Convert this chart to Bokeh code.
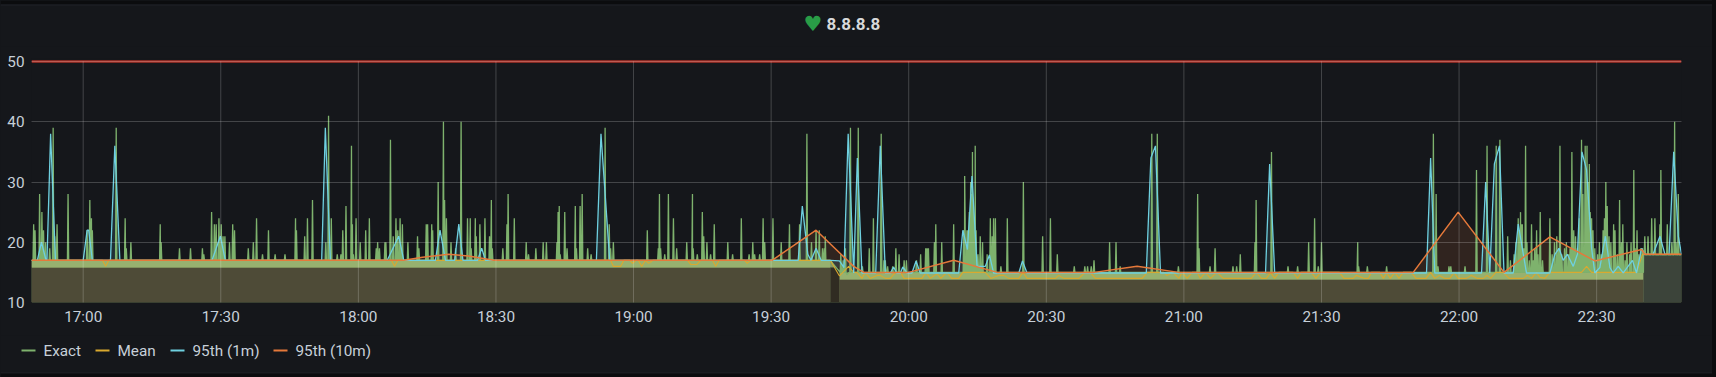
from bokeh.plotting import figure
from bokeh.layouts import column
from bokeh.embed import file_html
from bokeh.resources import INLINE
from bokeh.models import Range1d, FixedTicker, Label

# time is in minutes after 17:00
title_text = "8.8.8.8"
tick_minutes = [0, 30, 60, 90, 120, 150, 180, 210, 240, 270, 300, 330]
tick_labels = ["17:00", "17:30", "18:00", "18:30", "19:00", "19:30", "20:00", "20:30", "21:00", "21:30", "22:00", "22:30"]
y_ticks = [10, 20, 30, 40, 50]
threshold = 50
t_min, t_max = -11.27, 348.5

# (start, end, band bottom, band top)
band_segments = [(-11.27, 162.9, 15.8, 17), (164.9, 340.2, 13.8, 15)]
gap_segment = (162.9, 164.9, 17)
late_segment = (340.2, 348.5, 17.9)

exact_spikes = [
    (-10.8, 23), (-10.5, 22), (-9.5, 28), (-9.0, 25), (-8.65, 22), (-8.2, 20), (-7.3, 19), (-6.55, 39), (-6.2, 21), (-5.7, 23),
    (-3.3, 28), (0.86, 22), (1.45, 27), (1.8, 24), (2.0, 22), (7.2, 39), (9.15, 24), (9.4, 19), (10.4, 20), (16.8, 23), (17, 20),
    (21, 19), (23.4, 19), (26, 19), (26.3, 18), (28, 25), (28.6, 23), (29, 23), (29.6, 24), (30.1, 23), (30.5, 21), (30.9, 21),
    (31.9, 20), (32.6, 23), (33, 22), (36, 19), (37.1, 20), (37.8, 24), (39.1, 18), (40.4, 22), (41.85, 18), (44, 18), (46.3, 24),
    (46.5, 22), (48.3, 21), (48.9, 24), (50, 27), (52.9, 20), (53.5, 41), (54.1, 24), (55.4, 18), (56.2, 18), (56.6, 22), (57.3, 26),
    (58.5, 36), (58.7, 23), (58.9, 18), (59.5, 24), (60.4, 20), (61.6, 22), (62.4, 24), (63.9, 19), (64.2, 20), (64.6, 19), (65.8, 20),
    (66, 20), (67, 37), (67.6, 21), (68.2, 24), (68.6, 22), (69.1, 24), (69.6, 23), (70.8, 20), (72.9, 21), (73.2, 19), (74.8, 23),
    (75.1, 23), (76, 23), (76.2, 22), (77.4, 30), (78.55, 40), (78.8, 27), (79.2, 24), (80.2, 20), (81.2, 19), (82.4, 40), (83.8, 24),
    (84.4, 24), (84.6, 19), (85.5, 24), (85.7, 21), (86.5, 23), (87.6, 24), (88.6, 21), (89, 27), (89.2, 19), (91.5, 19), (92.4, 23),
    (92.65, 28), (94, 24), (96.6, 20), (97.1, 18), (98.7, 19), (100.3, 20), (101, 20), (103.3, 20), (103.55, 25), (103.8, 26), (104, 18),
    (105, 25), (105.5, 19), (107.3, 26), (107.55, 19), (108.35, 26), (108.8, 28), (110, 19), (110.75, 18), (113.8, 39), (114.7, 23),
    (115, 19), (115.6, 20), (123, 22), (125.4, 19), (125.65, 28), (125.9, 19), (126.8, 18), (127.6, 28), (128.7, 24), (129.4, 19),
    (131.6, 20), (132.85, 28), (133, 19), (133.9, 18), (135, 25), (135.3, 21), (136, 20), (136.8, 18), (137.6, 23), (140.55, 20),
    (141.6, 18), (143.5, 24), (145.2, 18), (146, 20), (146.4, 18), (147.5, 18), (148.25, 24), (148.6, 20), (150.4, 24), (152.2, 20),
    (154, 23), (156.2, 23), (157.8, 38), (158.8, 20), (159.8, 22), (160.5, 22), (161.2, 19), (161.6, 19), (161.8, 21),
    (165.2, 18), (165.7, 17), (166.2, 19), (167.3, 39), (169, 39), (169.9, 16), (171.4, 19), (172.3, 24), (174, 38), (174.6, 17), (174.9, 17),
    (175.4, 16), (176.5, 16), (177.2, 19), (177.9, 18), (179, 17), (179.5, 17), (181.7, 17), (182.6, 18), (183.7, 19), (184, 19), (184.3, 19),
    (185.6, 20), (185.9, 23), (187.2, 20), (189.8, 23), (192, 22), (192.2, 31), (192.3, 24), (192.7, 22), (192.9, 22), (193.2, 25),
    (193.5, 30), (193.7, 28), (193.9, 35), (194.1, 26), (194.3, 24), (194.5, 36), (194.7, 22), (195.1, 18), (195.6, 21), (196.1, 20),
    (197.1, 18), (197.8, 24), (198.2, 21), (198.5, 24), (198.9, 24), (200.1, 16), (201.5, 24), (205, 30), (209.2, 21), (210.9, 24),
    (212.4, 18), (216.1, 16), (218.4, 16), (219, 16), (219.8, 16), (220.4, 17), (223.8, 20), (225.2, 20), (226.1, 16), (233, 38),
    (234.2, 38), (238.8, 16), (243, 28), (243.3, 19), (245.7, 16), (246.8, 19), (250.7, 16), (251.5, 16), (252.3, 18), (255.5, 20),
    (255.75, 27), (259.1, 35), (262.7, 16), (264.8, 16), (267.2, 20), (268.5, 24), (269.3, 16), (270, 20), (277.9, 20), (278.1, 16),
    (280, 16), (284.2, 16), (294.4, 38), (295, 28), (295.4, 16), (297.8, 16), (298.2, 16), (301.3, 16),
    (303.8, 32), (306.1, 36), (308.1, 36), (308.9, 37), (310.6, 21), (311.2, 17), (312, 18), (312.4, 20), (312.9, 24), (313.1, 22),
    (313.4, 25), (313.6, 23), (313.8, 23), (314.1, 19), (314.5, 36), (314.8, 20), (315.3, 17), (315.8, 23), (316.2, 17), (316.5, 19),
    (316.9, 22), (317.2, 18), (317.7, 25), (318.2, 17), (319.8, 24), (320.3, 18), (320.8, 20), (321.3, 21), (321.7, 19), (322, 36),
    (322.4, 18), (323, 19), (323.4, 20), (323.9, 18), (324.2, 19), (324.6, 35), (325, 22), (325.4, 21), (325.8, 19), (326.2, 24),
    (326.7, 37), (327, 28), (327.5, 36), (327.9, 36), (328.1, 30), (328.4, 33), (328.6, 25), (328.9, 24), (329.2, 22), (329.6, 19),
    (330.2, 18), (330.6, 20), (331, 18), (331.4, 22), (331.7, 24), (332, 30), (332.3, 26), (332.7, 21), (333.1, 20), (333.7, 23),
    (334, 22), (334.5, 18), (335, 27), (335.4, 20), (335.7, 23), (336.2, 17), (336.6, 20), (337.2, 18), (337.5, 20), (338.1, 32),
    (338.4, 19), (338.8, 22), (339.2, 18), (339.6, 19), (340, 19), (340.5, 21), (341.2, 21), (342, 24), (342.7, 24), (343.8, 23),
    (344, 32), (345.4, 23), (346.4, 20), (347, 40), (347.3, 20), (347.8, 28),
]

mean_points = [
    (-11.27, 17), (4.2, 17), (4.9, 16), (5.6, 17), (67.2, 17), (67.9, 16), (68.6, 17), (115, 17), (115.6, 16), (117.2, 16), (117.9, 17),
    (119.2, 17), (119.8, 16.5), (120.5, 17), (121, 17), (121.8, 16), (122.6, 17), (123.3, 16.5), (123.7, 16.7), (124.2, 17),
    (131.8, 17), (132.5, 16.3), (133.8, 16.3), (134.6, 17), (137.2, 17), (137.9, 16), (138.7, 17), (144.2, 17), (144.8, 16.5), (145.5, 17),
    (162.9, 17),
    (164.9, 14.4), (166.9, 16), (168, 15), (168.7, 15), (169.8, 14), (170.5, 15), (171.6, 14), (173.1, 14.5), (173.8, 14.5), (174.9, 14),
    (176, 14), (177.1, 15), (178.2, 15), (179, 14), (182.9, 14), (183.8, 15), (184.7, 14), (186.2, 14.8), (187, 14), (188.3, 15),
    (189.4, 14), (190.9, 14), (191.8, 15), (196.7, 15), (197.9, 14), (199.6, 14.5), (200.7, 14.5), (201.8, 14), (204, 14), (204.9, 15),
    (205.8, 14), (212, 14), (212.7, 14.5), (213.8, 14), (217.1, 14), (218.5, 15), (219.6, 15), (220.7, 14), (230.9, 14), (232, 15),
    (235.6, 15), (236.3, 14.5), (237.6, 15), (238.9, 14), (239.6, 15), (240.7, 14), (241.8, 15), (242.9, 15), (243.6, 14), (244.7, 15),
    (245.8, 14), (247.2, 15), (248.6, 14), (254.7, 14), (255.8, 15), (256.9, 14), (258, 14), (258.9, 15), (259.8, 14), (260.7, 15),
    (263.8, 15), (264.8, 14), (265.6, 15), (267.8, 15), (268.8, 14), (269.8, 15), (273.9, 15), (274.9, 14), (276.9, 14), (277.6, 14.5),
    (279.4, 14), (280.2, 14), (280.9, 15), (282.7, 15), (283.5, 14), (284.2, 15), (285, 14), (286, 15), (286.9, 14), (287.8, 15),
    (289.6, 15), (290.6, 14), (292.8, 14), (293.8, 15), (294.7, 14), (295.7, 14.5), (296.9, 14), (298, 14), (298.9, 15), (299.8, 14),
    (301.6, 14), (302.7, 14.5), (304, 14), (305.3, 14), (306.1, 14.5), (306.9, 14), (308, 15), (309.6, 15), (310.9, 14), (314, 14),
    (314.9, 14.5), (315.8, 14), (316.9, 15), (317.6, 14.2), (318.7, 14), (319.8, 15), (326.7, 15), (327.8, 16), (328.9, 15), (338.7, 15),
    (340, 18), (348.5, 18),
]

p95_1m_points = [
    (-11.27, 17), (-10, 17), (-9.1, 20), (-8.1, 17), (-7.9, 17), (-7.1, 38), (-6.05, 17), (0, 17), (0.86, 22), (1.2, 22), (2, 17),
    (5.95, 17), (6.9, 36), (8, 17), (28.1, 17), (29.9, 21), (31, 17), (52, 17), (52.8, 39), (53.9, 17), (66.3, 17), (68.8, 21), (69.9, 17),
    (76.8, 17), (77.8, 22), (79, 17), (81, 17), (81.9, 23), (82.8, 17), (86, 17), (86.9, 19), (87.7, 17), (111.9, 17), (112.9, 38), (114.8, 17),
    (155.9, 17), (156.8, 26), (158, 18), (158.7, 17), (159.8, 19), (160.9, 17), (162.9, 17),
    (164.9, 16.9), (165.9, 15.8), (166.8, 38), (168, 14.9), (168.8, 34), (169.8, 14.9), (172.8, 14.9), (173.8, 36), (174.9, 14.9), (176, 14.9),
    (176.7, 15.9), (177.4, 14.9), (178.2, 14.9), (178.7, 15.9), (179.6, 14.9), (180.7, 14.9), (181.6, 16.9), (182.5, 14.9), (190.9, 14.9),
    (191.8, 22), (192.8, 18.8), (193.8, 31), (194.9, 16), (196.7, 16), (197.6, 17.9), (198.5, 14.9), (204, 14.9), (204.8, 16.9), (205.8, 14.9),
    (231.8, 14.9), (232.8, 34), (233.8, 36), (234.9, 14.9), (257.8, 14.9), (258.7, 33), (259.8, 14.9), (292.9, 14.9), (293.8, 34), (294.7, 14.9),
    (304.9, 14.9), (305.8, 30), (306.7, 14.9), (307.7, 33), (308.8, 36), (309.8, 14.9), (311.8, 14.9), (312.9, 23), (314.7, 14.9), (319.8, 14.9),
    (320.9, 18), (321.8, 19), (322.7, 17), (323.6, 18), (324.9, 16), (325.8, 18), (326.8, 35), (327.8, 32), (328.9, 19), (329.6, 14.9),
    (330.7, 15.8), (331.9, 21), (332.9, 15.8), (333.6, 14.9), (334.7, 16), (335.8, 14.9), (337.8, 17), (338.7, 14.9), (339.8, 19), (340.5, 18),
    (342.3, 18), (343.8, 21), (344.9, 18), (345.8, 18), (346.8, 35), (347.8, 21), (348.5, 18),
]

p95_10m_points = [
    (-11.27, 17), (69.9, 17), (74, 17.5), (79.7, 18), (84, 17.7), (89.5, 17), (150.2, 17), (159.8, 22), (168, 16), (170.2, 15), (180, 15),
    (189.8, 17), (199.3, 15), (220.4, 15), (229.8, 16), (238.9, 15), (290, 15), (299.8, 25), (309.8, 15), (319.8, 20.9), (329.6, 16.9),
    (339.8, 18.8), (340.5, 18), (348.5, 18),
]

series_names = ["Exact", "Mean", "95th (1m)", "95th (10m)"]
series_colors = ["#7EB26D", "#D9A92F", "#6ED0E0", "#E5793A"]

BG = "#15171b"
OUTER = "#0b0c0e"
EDGE = "#212328"
TEXT = "#c7d0d9"
W, PANEL_W = 1716, 1712
HEAD_H, MAIN_BOTTOM, H = 46, 335, 377
FRAME_TOP, FRAME_BOTTOM = 58, 302


def strip_figure(height, y_top):
    """A frameless strip of the page whose data units are page pixels."""
    return figure(width=PANEL_W, height=height, output_backend="svg", toolbar_location=None,
                  x_range=Range1d(0, PANEL_W), y_range=Range1d(y_top + height, y_top),
                  x_axis_type=None, y_axis_type=None, min_border=0, frame_align=False,
                  background_fill_color=BG, border_fill_color=BG, outline_line_color=None, margin=0)


# header: panel edge, heart and title
head = strip_figure(HEAD_H, 0)
head.grid.visible = False
head.quad(left=[0], right=[PANEL_W], top=[0], bottom=[4], fill_color=OUTER, line_color=None)
head.quad(left=[0], right=[PANEL_W], top=[4], bottom=[5], fill_color=EDGE, line_color=None)
head.add_layout(Label(x=812.5, y=23.5, text="\u2665", text_color="#299c46", text_font="DejaVu Sans",
                      text_font_size="21px", text_baseline="middle", text_align="center"))
head.add_layout(Label(x=826, y=23, text=title_text, text_color="#d8d9da", text_font="Roboto",
                      text_font_style="bold", text_font_size="17px", text_baseline="middle"))

# main chart
p = figure(width=PANEL_W, height=MAIN_BOTTOM - HEAD_H, output_backend="svg", toolbar_location=None,
           x_range=Range1d(t_min, t_max), y_range=Range1d(10, 50.5), frame_align=False,
           min_border_left=31, min_border_right=PANEL_W - 1681, min_border_top=FRAME_TOP - HEAD_H,
           min_border_bottom=MAIN_BOTTOM - FRAME_BOTTOM,
           background_fill_color=BG, border_fill_color=BG, outline_line_color=None, margin=0)
p.xaxis.ticker = FixedTicker(ticks=tick_minutes)
p.xaxis.major_label_overrides = dict(zip(tick_minutes, tick_labels))
p.yaxis.ticker = FixedTicker(ticks=y_ticks)
for ax in (p.xaxis[0], p.yaxis[0]):
    ax.axis_line_color = None
    ax.major_tick_line_color = None
    ax.minor_tick_line_color = None
    ax.major_tick_in = 0
    ax.major_tick_out = 0
    ax.major_label_text_color = TEXT
    ax.major_label_text_font = "Roboto"
    ax.major_label_text_font_size = "15.3px"
p.xaxis[0].major_label_standoff = 5
p.yaxis[0].major_label_standoff = 7
p.xgrid.visible = False
p.ygrid.ticker = FixedTicker(ticks=y_ticks)
p.ygrid[0].grid_line_color = "#ffffff"
p.ygrid[0].grid_line_alpha = 0.2
p.ygrid[0].level = "overlay"


def base_at(t):
    if t < band_segments[0][1]:
        return band_segments[0][3]
    if t < late_segment[0]:
        return band_segments[1][3]
    return late_segment[2]


half = 0.14
pts = [(t_min, base_at(t_min)), (band_segments[0][1], band_segments[0][3]), (166.5, 14.6),
       (167.0, band_segments[1][3]), (late_segment[0], band_segments[1][3]), (late_segment[0] + 0.02, late_segment[2]),
       (t_max, late_segment[2])]
for t, v in sorted(exact_spikes):
    pts += [(t - half, base_at(t)), (t, v), (t + half, base_at(t))]
pts.sort(key=lambda a: a[0])
ex, ey = [a[0] for a in pts], [a[1] for a in pts]
mx, my = zip(*mean_points)
bx, by = zip(*p95_1m_points)
ox, oy = zip(*p95_10m_points)

# translucent fills under the series
p.varea(ox, [10] * len(ox), oy, fill_color=series_colors[3], fill_alpha=0.13)
p.varea(bx, [10] * len(bx), by, fill_color=series_colors[2], fill_alpha=0.13)
p.varea(ex, [10] * len(ex), ey, fill_color="#97b16f", fill_alpha=0.8)

# solid blocks of the base band
p.quad(left=[s[0] for s in band_segments], right=[s[1] for s in band_segments],
       bottom=[10, 10], top=[s[2] for s in band_segments], fill_color="#4e4b37", line_color=None)
p.quad(left=[s[0] for s in band_segments], right=[s[1] for s in band_segments],
       bottom=[s[2] for s in band_segments], top=[s[3] for s in band_segments], fill_color="#97b16f", line_color=None)
p.quad(left=[gap_segment[0]], right=[gap_segment[1]], bottom=[10], top=[15.8], fill_color="#302c22", line_color=None)
p.quad(left=[late_segment[0]], right=[late_segment[1]], bottom=[10], top=[late_segment[2]], fill_color="#3c443a", line_color=None)

p.line(ex, ey, line_color=series_colors[0], line_width=1.3)
p.line(mx, my, line_color=series_colors[1], line_width=1.1)
p.line(bx, by, line_color=series_colors[2], line_width=1.3)
p.line(ox, oy, line_color=series_colors[3], line_width=1.5)

# vertical grid stops at the threshold line
p.segment(tick_minutes, [10] * len(tick_minutes), tick_minutes, [threshold] * len(tick_minutes),
          line_color="#ffffff", line_alpha=0.2, level="overlay")
p.line([t_min, t_max], [threshold, threshold], line_color="#ad3229", line_width=2.5)

# footer: legend and panel edge
foot = strip_figure(H - MAIN_BOTTOM, MAIN_BOTTOM)
foot.grid.visible = False
legend_swatch_x = [21, 95, 170, 273]
legend_y = 350
for name, col, sx in zip(series_names, series_colors, legend_swatch_x):
    foot.line([sx, sx + 14], [legend_y, legend_y], line_color=col, line_width=2)
    foot.add_layout(Label(x=sx + 22, y=legend_y, text=name, text_color=TEXT, text_font="Roboto",
                          text_font_size="15.3px", text_baseline="middle"))
foot.quad(left=[0], right=[PANEL_W], top=[372], bottom=[373], fill_color=EDGE, line_color=None)
foot.quad(left=[0], right=[PANEL_W], top=[373], bottom=[H], fill_color=OUTER, line_color=None)

page = column(head, p, foot, width=W, spacing=0, margin=0,
              styles={"background": f"linear-gradient(to right, {BG} {PANEL_W}px, {OUTER} {PANEL_W}px)"})
open("out.html", "w").write(file_html(page, INLINE))
